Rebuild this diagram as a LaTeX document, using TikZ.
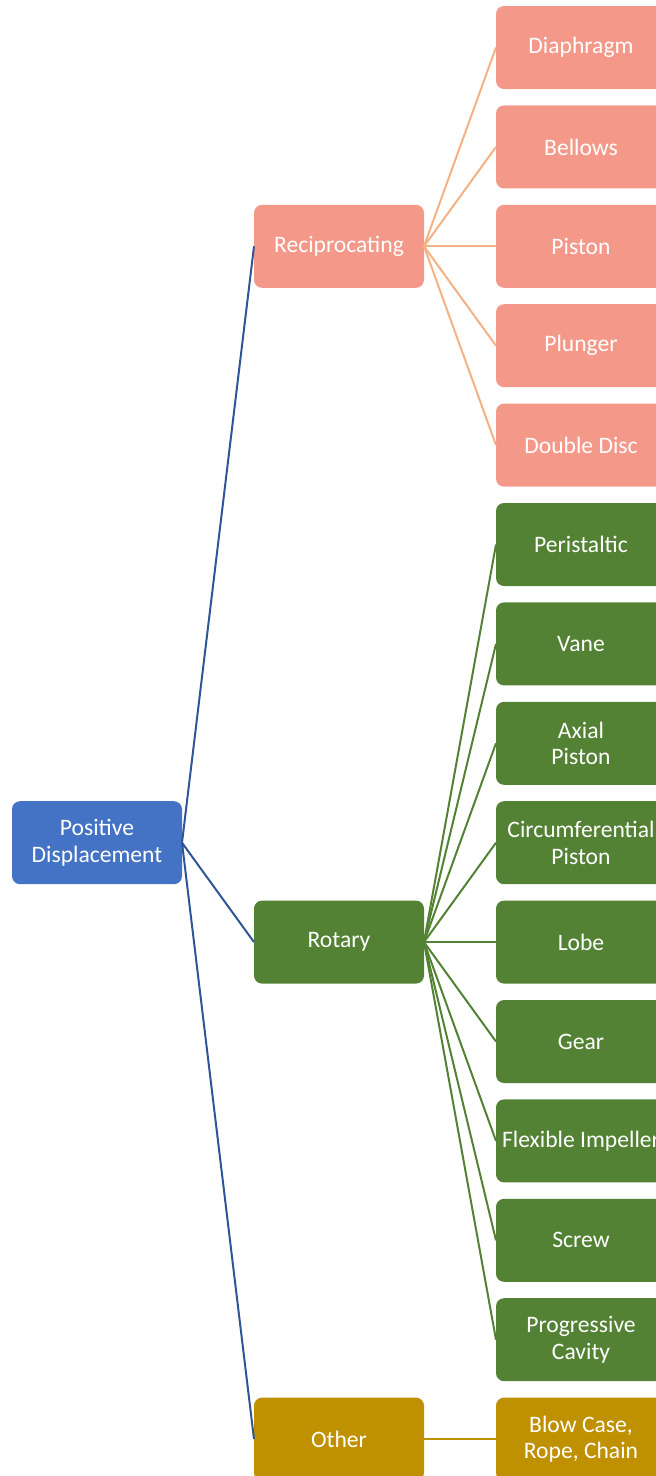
\documentclass[tikz,border=0pt]{standalone}
\usepackage{fontspec}
\setmainfont{Carlito}
\usetikzlibrary{positioning}

\definecolor{pdblue}{HTML}{4472C4}
\definecolor{lineblue}{HTML}{2F5597}
\definecolor{recfill}{HTML}{F4998A}
\definecolor{recline}{HTML}{F4B183}
\definecolor{rotgreen}{HTML}{548235}
\definecolor{othgold}{HTML}{BF9000}

\begin{document}
\begin{tikzpicture}[x=1pt,y=-1pt]
    \tikzset{block/.style= {rectangle, rounded corners=8pt
    , minimum width=170pt, minimum height=83pt
    , inner sep=2pt, outer sep=0pt, align=center, text=white
    , font=\fontsize{23.6}{26.5}\selectfont
      }
    , recbox/.style={block, fill=recfill}
    , rotbox/.style={block, fill=rotgreen}
    , othbox/.style={block, fill=othgold}
    , leaf/.style={below=16.4pt of #1}
    }

\useasboundingbox (0,0) rectangle (656,1476);

% leaves, top to bottom
\node [recbox] (diaphragm) at (581,47.5) {Diaphragm};
\node [recbox, leaf=diaphragm] (bellows) {Bellows};
\node [recbox, leaf=bellows] (piston) {Piston};
\node [recbox, leaf=piston] (plunger) {Plunger};
\node [recbox, leaf=plunger] (disc) {Double Disc};
\node [rotbox, leaf=disc] (peristaltic) {Peristaltic};
\node [rotbox, leaf=peristaltic] (vane) {Vane};
\node [rotbox, leaf=vane] (axial) {Axial\\Piston};
\node [rotbox, leaf=axial] (circ) {Circumferential\\Piston};
\node [rotbox, leaf=circ] (lobe) {Lobe};
\node [rotbox, leaf=lobe] (gear) {Gear};
\node [rotbox, leaf=gear] (flexible) {Flexible Impeller};
\node [rotbox, leaf=flexible] (screw) {Screw};
\node [rotbox, leaf=screw] (progressive) {Progressive\\Cavity};
\node [othbox, leaf=progressive] (blowcase) {Blow Case,\\Rope, Chain};

% middle level
\node [recbox, left=72pt of piston] (recip) {Reciprocating};
\node [rotbox, left=72pt of lobe] (rotary) {Rotary};
\node [othbox, left=72pt of blowcase] (other) {Other};

% root
\coordinate (rootpos) at (rotary.west |- circ.west);
\node [block, fill=pdblue, left=72pt of rootpos] (pd) {Positive\\Displacement};

 \path[draw, lineblue, line width=2pt]
  (pd.east) -- (recip.west)
  (pd.east) -- (rotary.west)
  (pd.east) -- (other.west);

\foreach \n in {diaphragm,bellows,piston,plunger,disc}
  \draw[recline, line width=2pt] (recip.east) -- (\n.west);

\foreach \n in {peristaltic,vane,axial,circ,lobe,gear,flexible,screw,progressive}
  \draw[rotgreen, line width=2pt] (rotary.east) -- (\n.west);

 \path[draw, othgold, line width=2pt] (other.east) -- (blowcase.west);
\end{tikzpicture}
\end{document}
